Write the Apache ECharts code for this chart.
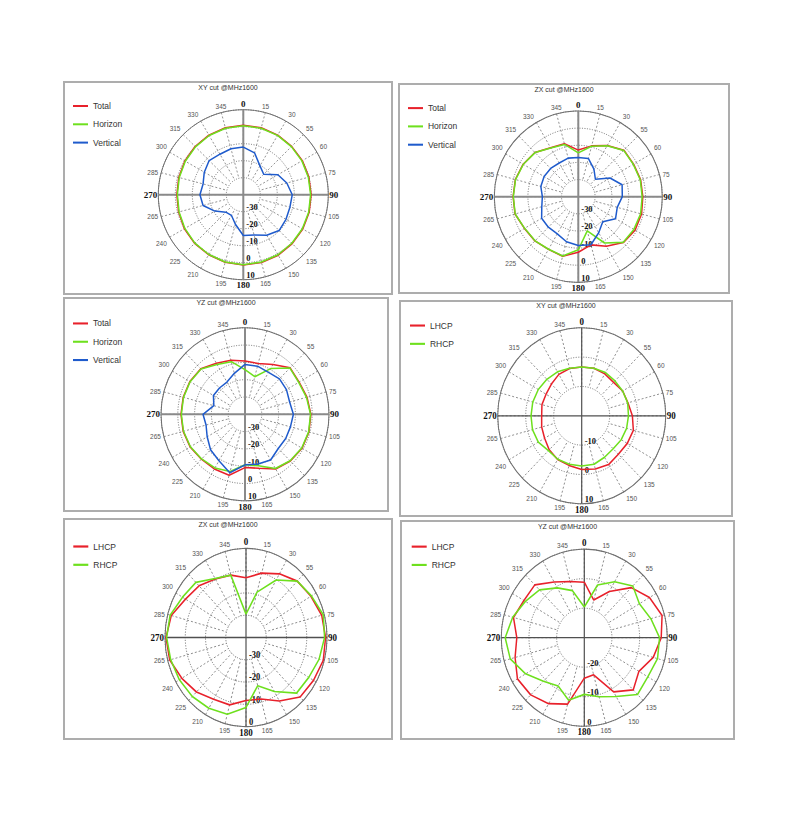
<!DOCTYPE html>
<html>
<head>
<meta charset="utf-8">
<script src="https://cdn.jsdelivr.net/npm/echarts@6/dist/echarts.min.js"></script>
<style>
html,body{margin:0;padding:0;background:#fff;width:800px;height:816px;overflow:hidden;}
.chart{position:absolute;transform-origin:0 0;}
.frame{position:absolute;box-sizing:border-box;border:2px solid #adadad;pointer-events:none;}
</style>
</head>
<body>
<script>
// ---------- data ----------
const angles = [0, 15, 30, 45, 60, 75, 90, 105, 120, 135, 150, 165, 180, 195, 210, 225, 240, 255, 270, 285, 300, 315, 330, 345];
const angleLabels = ['0','15','30','55','60','75','90','105','120','135','150','165','180','195','210','225','240','265','270','285','300','315','330','345'];
const boldLabels = ['0','90','180','270'];

const titles = ['XY cut @MHz1600','ZX cut @MHz1600','YZ cut @MHz1600','XY cut @MHz1600','ZX cut @MHz1600','YZ cut @MHz1600'];
const linNames = ['Total','Horizon','Vertical'];
const cpNames = ['LHCP','RHCP'];
const radialRanges = [[-40,10],[-40,10],[-40,10],[-20,10],[-40,0],[-30,0]];

// XY cut (linear)
const xyTotal    = [0.9, 0.8, 0.5, 0.2, 0.1, -0.1, -0.1, 0.1, 0.4, 0.7, 1.1, 1.3, 1.4, 1.2, 0.8, 0.5, 0.0, -0.6, -0.9, -0.7, -0.3, 0.1, 0.5, 0.8];
const xyHorizon  = [0.6, 0.5, 0.3, 0.0, -0.2, -0.4, -0.4, -0.2, 0.1, 0.4, 0.8, 1.0, 1.2, 1.0, 0.6, 0.3, -0.3, -0.9, -1.2, -1.0, -0.6, -0.2, 0.2, 0.5];
const xyVertical = [-12.0, -14.5, -20.4, -23.0, -16.5, -13.5, -11.2, -11.6, -11.0, -10.2, -12.5, -15.5, -16.0, -22.0, -26.0, -25.5, -20.7, -15.5, -14.5, -15.5, -13.5, -11.6, -12.5, -12.0];
// ZX cut (linear)
const zxTotal    = [-12.8, -9.3, -5.5, -1.6, -2.0, -1.6, -1.6, -1.0, -1.0, -2.1, -6.6, -10.9, -7.6, -4.0, -4.5, -3.5, -3.0, -1.0, -1.2, -1.2, -2.1, -3.5, -7.0, -8.0];
const zxHorizon  = [-14.4, -9.5, -5.7, -1.8, -2.2, -1.8, -2.0, -1.6, -1.8, -2.3, -8.8, -19.4, -9.0, -4.2, -4.6, -3.6, -3.1, -1.1, -1.3, -1.3, -2.2, -3.6, -7.2, -8.4];
const zxVertical = [-17.1, -16.9, -21.4, -25.6, -18.2, -13.0, -13.8, -16.0, -14.4, -19.4, -15.7, -11.0, -11.5, -12.8, -15.0, -14.8, -14.8, -17.5, -18.6, -16.9, -16.5, -16.7, -17.3, -16.7];
// YZ cut (linear)
const yzTotal    = [-9.2, -9.6, -6.7, -2.0, -2.8, -1.8, -0.8, -0.6, -0.8, -1.8, -3.5, -7.7, -9.2, -3.5, -3.5, -3.3, -2.3, -1.9, -1.9, -1.9, -2.1, -2.8, -6.0, -7.7];
const yzHorizon  = [-14.2, -17.5, -9.5, -2.2, -3.1, -2.1, -1.0, -0.8, -1.0, -2.0, -3.8, -9.2, -10.8, -5.8, -4.2, -3.5, -2.5, -2.1, -2.1, -2.1, -2.3, -3.0, -6.7, -8.5];
const yzVertical = [-11.2, -11.2, -12.0, -11.0, -11.5, -12.5, -11.2, -12.0, -12.0, -12.0, -9.5, -10.2, -10.8, -5.0, -9.0, -11.0, -14.0, -16.0, -15.0, -20.8, -18.3, -18.5, -18.5, -15.5];
// XY cut (circular)
const xyLHCP = [-3.4, -3.2, -3.5, -3.9, -3.1, -2.9, -1.9, -0.9, -1.2, -1.5, -0.8, -1.2, -1.7, -2.5, -2.8, -3.6, -4.7, -5.2, -5.7, -5.3, -5.3, -4.7, -3.7, -3.3];
const xyRHCP = [-3.4, -3.2, -3.0, -3.2, -3.1, -3.0, -3.3, -3.4, -3.7, -4.1, -3.7, -2.9, -2.9, -2.9, -2.9, -3.2, -2.1, -1.8, -1.9, -1.9, -2.1, -2.4, -2.7, -3.2];
// ZX cut (circular)
const zxLHCP = [-13.2, -10.1, -7.0, -4.2, -3.0, -1.3, -0.7, -0.5, -1.5, -2.2, -7.1, -11.4, -11.7, -8.7, -8.0, -5.4, -3.4, -1.0, -0.5, -1.8, -5.5, -7.2, -9.7, -11.0];
const zxRHCP = [-29.5, -18.9, -10.2, -4.2, -2.7, -0.5, -1.2, -2.6, -4.2, -4.7, -12.0, -17.6, -8.6, -4.3, -3.3, -2.5, -2.0, -1.5, -0.8, -1.2, -3.8, -5.0, -9.4, -11.0];
// YZ cut (circular)
const yzLHCP = [-11.2, -16.8, -11.9, -6.0, -2.8, -0.9, -2.2, -4.2, -7.2, -5.0, -8.8, -17.0, -16.3, -6.7, -4.2, -2.6, -2.1, -4.1, -5.6, -3.5, -4.8, -4.7, -8.2, -10.3];
const yzRHCP = [-19.6, -11.5, -8.1, -5.2, -7.0, -5.1, -2.8, -2.6, -3.5, -2.8, -7.0, -9.3, -10.8, -8.1, -11.1, -9.1, -5.5, -2.3, -1.4, -3.2, -5.4, -7.1, -10.5, -13.5];

const panelSeries = [
  [xyTotal, xyHorizon, xyVertical],
  [zxTotal, zxHorizon, zxVertical],
  [yzTotal, yzHorizon, yzVertical],
  [xyLHCP, xyRHCP],
  [zxLHCP, zxRHCP],
  [yzLHCP, yzRHCP]
];
const panelNames = [linNames, linNames, linNames, cpNames, cpNames, cpNames];

// ---------- layout / style ----------
const RED = '#e8212b', GREEN = '#6ee01e', BLUE = '#1f5bcc';
const linColors = [RED, GREEN, BLUE];
const cpColors = [RED, GREEN];
const layout = [
  {left:63,  top:81,  w:330, h:214, cx:180.3, cy:113.7, R:85, sy:1.00,  lgL:10,   lgT:20,   cross:['#8a8a8a',2]},
  {left:398, top:83,  w:332, h:211, cx:180.3, cy:113.7, R:84, sy:1.02,  lgL:10,   lgT:20,   cross:['#8a8a8a',2]},
  {left:63,  top:297, w:326, h:215, cx:182,   cy:117.3, R:84, sy:1.03,  lgL:10,   lgT:21.3, cross:['#8a8a8a',2]},
  {left:399, top:300, w:334, h:217, cx:182.7, cy:115.8, R:84, sy:1.048, lgL:11,   lgT:20.3, cross:['#505050',1.2]},
  {left:63,  top:518, w:330, h:222, cx:183,   cy:119.5, R:81, sy:1.10,  lgL:10.3, lgT:23,   cross:['#505050',1.2]},
  {left:400, top:520, w:335, h:220, cx:184.3, cy:117.7, R:83, sy:1.067, lgL:11.7, lgT:21.3, cross:['#505050',1.2]}
];

function loop(vals) {
  const d = angles.map((a, i) => [vals[i], a]);
  d.push([vals[0], 360]);
  return d;
}

function buildOption(k) {
  const L = layout[k];
  const sy = L.sy;
  const [rMin, rMax] = radialRanges[k];
  const frac = 10 / (rMax - rMin);
  const names = panelNames[k];
  const colors = k < 3 ? linColors : cpColors;
  const center = [L.cx, L.cy / sy];
  const series = [];
  // axis cross (0-180, 90-270)
  [[0,180],[90,270]].forEach(pair => {
    series.push({
      type:'line', coordinateSystem:'polar', polarIndex:0, silent:true, symbol:'none', z:1,
      data:[[rMax, pair[0]], [rMax, pair[1]]],
      lineStyle:{color:L.cross[0], width:L.cross[1]}
    });
  });
  panelSeries[k].forEach((vals, i) => {
    series.push({
      name:names[i], type:'line', coordinateSystem:'polar', polarIndex:0, symbol:'none', z:3,
      data:loop(vals),
      itemStyle:{color:colors[i]},
      lineStyle:{color:colors[i], width:1.5}
    });
  });
  return {
    animation:false,
    textStyle:{fontFamily:'Liberation Sans'},
    title:{
      text:titles[k], left:'center', top:2.5 / sy, padding:0,
      textStyle:{fontSize:7, fontWeight:'normal', color:'#333', fontFamily:'Liberation Sans'}
    },
    legend:{
      orient:'vertical', left:L.lgL, top:L.lgT / sy, padding:0, icon:'rect',
      itemWidth:15, itemHeight:2, itemGap:18.3 / sy - 10,
      textStyle:{fontSize:8.5, color:'#333', lineHeight:10, fontFamily:'Liberation Sans'},
      data:names
    },
    polar:[
      {center:center, radius:[0, L.R]},
      {center:center, radius:[L.R * frac, L.R]}
    ],
    angleAxis:[
      {
        polarIndex:0, type:'value', min:0, max:360, interval:15, startAngle:90, clockwise:true,
        axisLine:{show:true, lineStyle:{color:'#6e6e6e', width:1}},
        axisTick:{show:false}, splitLine:{show:false},
        axisLabel:{
          margin:1,
          formatter:(v) => {
            const s = angleLabels[Math.round(v / 15) % 24];
            return boldLabels.indexOf(s) >= 0 ? '{b|' + s + '}' : '{n|' + s + '}';
          },
          rich:{
            n:{fontSize:6.5, color:'#555', fontFamily:'Liberation Sans', padding:[2,2,2,2]},
            b:{fontSize:9, fontWeight:'bold', color:'#111', fontFamily:'Liberation Serif'}
          }
        }
      },
      {
        polarIndex:1, type:'value', min:0, max:360, interval:15, startAngle:270, clockwise:true,
        axisLine:{show:false}, axisTick:{show:false}, axisLabel:{show:false},
        splitLine:{show:true, lineStyle:{color:'#777', type:[2,2], width:0.8}}
      }
    ],
    radiusAxis:[
      {
        polarIndex:0, type:'value', min:rMin, max:rMax, interval:10,
        axisLine:{show:false}, axisTick:{show:false}, axisLabel:{show:false},
        splitLine:{show:true, lineStyle:{color:'#555', type:[1,1.5], width:0.8}}
      },
      {
        polarIndex:1, type:'value', min:rMin + 10, max:rMax, interval:10,
        axisLine:{show:false}, axisTick:{show:false}, splitLine:{show:false},
        axisLabel:{
          show:true, margin:3, verticalAlign:'bottom', align:'left',
          fontSize:8.5, fontWeight:'bold', color:'#111', fontFamily:'Liberation Serif',
          showMinLabel:true, showMaxLabel:true
        }
      }
    ],
    series:series
  };
}

layout.forEach((L, k) => {
  const div = document.createElement('div');
  div.className = 'chart';
  div.style.left = L.left + 'px';
  div.style.top = L.top + 'px';
  div.style.width = L.w + 'px';
  div.style.height = (L.h / L.sy) + 'px';
  div.style.transform = 'scaleY(' + L.sy + ')';
  document.body.appendChild(div);
  const frame = document.createElement('div');
  frame.className = 'frame';
  frame.style.left = L.left + 'px';
  frame.style.top = L.top + 'px';
  frame.style.width = L.w + 'px';
  frame.style.height = L.h + 'px';
  document.body.appendChild(frame);
  const chart = echarts.init(div, null, {renderer:'svg'});
  chart.setOption(buildOption(k));
});
</script>
</body>
</html>
